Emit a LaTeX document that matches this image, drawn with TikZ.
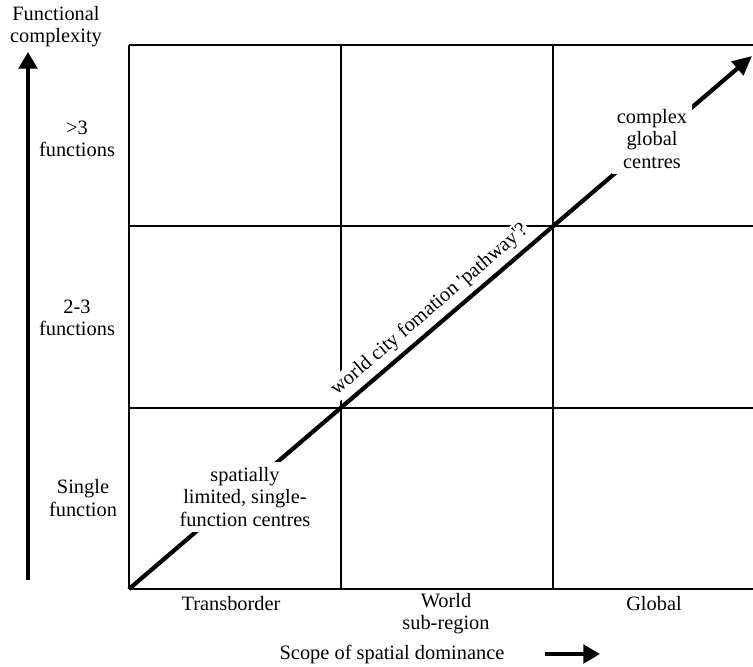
\documentclass[tikz,border=0pt]{standalone}
\usepackage{fontspec}
\setmainfont{Liberation Serif}
\usetikzlibrary{arrows.meta}

\begin{document}
\begin{tikzpicture}[x=0.02cm, y=-0.02cm,
    grid/.style={line width=1.4pt},
    pathway/.style={line width=2.4pt, -{Triangle[length=11pt, width=10pt]}},
    axis/.style={line width=2.2pt, -{Triangle[length=9.5pt, width=10.5pt]}},
    lbl/.style={align=center, font=\fontsize{11.6}{12.6}\selectfont, inner sep=1pt},
    blank/.style={lbl, fill=white, inner sep=3pt}]
    \useasboundingbox (0,0) rectangle (753,666);

    % Grid of cells
    \foreach \y in {45,226,408,589}
        \draw[grid] (129,\y) -- (753,\y);
    \foreach \x in {129,341,553}
        \draw[grid] (\x,45) -- (\x,589);

    % Pathway along the diagonal
    \coordinate (origin) at (129,589);
    \coordinate (tip) at (752,56);
    \draw[pathway] (origin) -- (tip)
        node[pos=0.5, sloped, above=2pt, lbl, fill=white] (pathway)
        {world city fomation \textquotesingle pathway\textquotesingle?};
    \node[blank] (local) at (245,497) {spatially\\limited, single-\\function centres};
    \node[blank] (complex) at (652,139) {complex\\global\\centres};

    % Vertical axis
    \coordinate (ybase) at (28,580);
    \coordinate (ytop) at (28,52);
    \draw[axis] (ybase) -- (ytop);
    \node[lbl] (ytitle) at (56,27) {Functional\\complexity};
    \node[lbl] (many) at (77,139) {>3\\functions};
    \node[lbl] (some) at (77,318) {2-3\\functions};
    \node[lbl] (single) at (83,498) {Single\\function};

    % Horizontal axis
    \node[lbl] (trans) at (231,604) {Transborder};
    \node[lbl] (world) at (446,614) {World\\sub-region};
    \node[lbl] (global) at (654,604) {Global};
    \node[lbl] (xtitle) at (392,654) {Scope of spatial dominance};
    \coordinate (xbase) at (545,654);
    \coordinate (xtip) at (600,654);
    \draw[axis] (xbase) -- (xtip);
\end{tikzpicture}
\end{document}
